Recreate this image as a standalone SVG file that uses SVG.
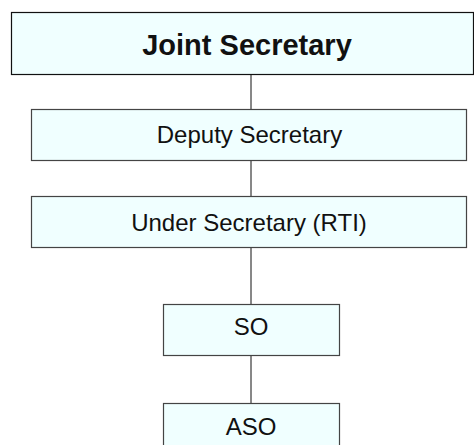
<svg xmlns="http://www.w3.org/2000/svg" width="474" height="445" viewBox="0 0 474 445">
<style>
.box{fill:#F0FFFF;stroke:#444;stroke-width:1.2}
.top{fill:#F0FFFF;stroke:#111;stroke-width:1.2}
.t{font-family:"Liberation Sans",Arial,sans-serif;font-size:24px;fill:#111;text-anchor:middle}
.b{font-family:"Liberation Sans",Arial,sans-serif;font-size:29px;font-weight:bold;fill:#111;text-anchor:middle}
.c{stroke:#111;stroke-width:1;fill:none}
</style>
<rect width="474" height="445" fill="#fff"/>
<g id="connectors">
<line class="c" x1="251" y1="74" x2="251" y2="109"/>
<line class="c" x1="251" y1="161" x2="251" y2="196"/>
<line class="c" x1="251" y1="248" x2="251" y2="304"/>
<line class="c" x1="251" y1="356" x2="251" y2="403"/>
</g>
<g id="joint-secretary">
<rect class="top" x="11.5" y="12.5" width="462" height="62"/>
<text class="b" x="247" y="55">Joint Secretary</text>
</g>
<g id="deputy-secretary">
<rect class="box" x="31.5" y="109.5" width="435" height="51"/>
<text class="t" x="249.5" y="143">Deputy Secretary</text>
</g>
<g id="under-secretary">
<rect class="box" x="31.5" y="196.5" width="435" height="51"/>
<text class="t" x="249" y="231">Under Secretary (RTI)</text>
</g>
<g id="so">
<rect class="box" x="163.5" y="304.5" width="176" height="51"/>
<text class="t" x="251" y="335">SO</text>
</g>
<g id="aso">
<rect class="box" x="163.5" y="403.5" width="176" height="51"/>
<text class="t" x="251" y="435">ASO</text>
</g>
</svg>
